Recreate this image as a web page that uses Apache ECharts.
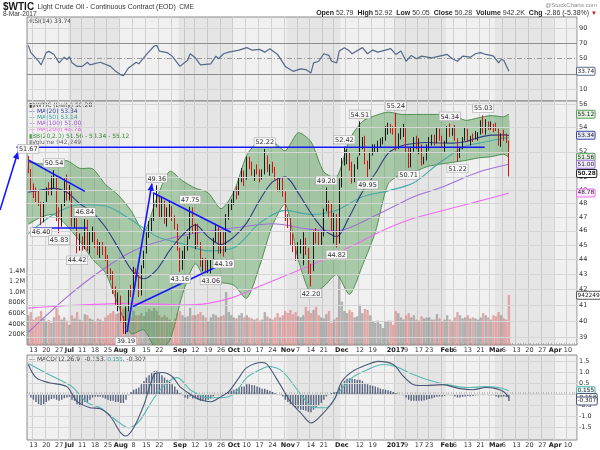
<!DOCTYPE html>
<html>
<head>
<meta charset="utf-8">
<script src="https://cdn.jsdelivr.net/npm/echarts@6.0.0/dist/echarts.min.js"></script>
<style>
html,body{margin:0;padding:0;background:#ffffff;}
#chart{width:600px;height:450px;}
</style>
</head>
<body>
<div id="chart"></div>
<script>
// ---------------- calendar (trading days) ----------------
const firstDay = '2016-06-09';
const lastAxisDay = '2017-04-13';
const holidays = ['2016-07-04','2016-09-05','2016-11-24','2016-12-26','2017-01-02','2017-01-16','2017-02-20','2017-04-14'];

// ---------------- daily OHLC, Jun 9 2016 .. Mar 8 2017 ----------------
const opens = [
51.10,50.50,49.05,48.90,48.50,48.00,46.70,48.30,49.00,48.90,
49.20,50.00,47.50,46.40,47.90,49.80,48.30,48.90,46.60,47.30,
45.20,45.30,44.80,46.70,44.80,45.60,45.90,45.20,44.60,44.90,
44.70,44.20,43.10,42.90,41.90,41.20,41.50,40.10,39.50,40.90,
41.90,41.80,43.00,42.80,41.70,43.50,44.50,45.70,46.60,46.80,
48.20,48.50,47.10,48.10,46.80,47.30,47.60,47.00,46.30,44.70,
43.40,44.40,44.80,45.50,47.60,45.60,46.30,44.90,43.60,43.90,
43.10,43.30,43.90,45.30,46.30,44.50,45.90,44.70,47.10,47.80,
48.20,48.80,48.70,49.80,50.40,49.90,51.40,51.10,50.20,50.40,
50.40,49.90,50.30,51.60,50.50,50.80,50.50,49.90,49.20,49.70,
48.70,46.90,46.70,45.30,44.70,44.10,44.90,45.00,45.30,44.70,
43.40,43.30,45.80,45.60,45.40,45.70,47.50,48.00,47.90,46.10,
47.10,45.20,49.50,51.10,51.70,51.80,50.90,49.80,50.80,51.80,
52.80,53.00,51.00,50.90,51.90,52.10,52.20,52.50,52.90,53.00,
53.90,54.00,53.80,53.90,52.40,53.30,53.80,53.90,51.90,50.80,
52.20,53.00,52.40,52.40,51.10,51.40,52.40,52.80,53.20,52.80,
53.80,53.20,52.60,52.80,53.90,53.50,53.80,53.00,52.20,52.30,
53.00,53.90,52.90,53.20,53.10,53.40,53.40,54.10,53.60,54.40,
54.00,54.00,54.00,53.80,52.60,53.30,53.20,52.79];
const highs = [
51.67,50.62,49.50,49.20,49.00,48.10,48.10,49.20,49.60,50.10,
50.54,50.10,47.70,48.00,49.90,50.20,49.40,49.00,47.60,47.40,
45.80,45.60,46.84,46.80,46.00,46.30,46.00,45.40,45.20,45.20,
44.90,44.30,43.40,43.20,42.20,41.80,41.60,40.30,40.90,42.00,
42.30,43.50,43.40,43.10,43.60,44.60,45.90,46.70,47.00,48.70,
49.36,48.60,48.50,48.20,47.70,48.20,47.80,47.10,46.50,44.80,
44.60,45.00,45.60,47.75,47.70,46.50,46.50,45.20,44.10,44.10,
44.00,44.00,45.50,46.50,46.40,46.00,46.00,47.20,48.00,48.30,
49.00,49.30,50.00,50.70,50.50,51.60,51.60,51.20,50.60,51.00,
50.60,50.60,52.22,51.70,51.00,51.20,50.80,50.00,49.90,50.00,
48.90,47.20,46.90,45.80,45.00,45.20,45.40,45.90,45.50,44.80,
43.70,46.00,46.20,46.00,46.00,47.60,49.20,48.20,48.00,47.30,
47.20,49.90,51.50,52.42,52.20,51.90,51.20,51.00,51.60,54.51,
53.20,53.30,51.30,52.00,52.60,52.60,52.90,53.10,53.20,54.10,
54.40,54.30,54.10,55.24,53.50,54.00,54.30,54.00,52.30,52.40,
53.20,53.30,53.10,52.60,51.60,52.60,53.20,53.40,53.40,54.00,
53.90,53.30,52.90,54.10,54.34,54.00,54.20,53.10,52.40,53.20,
54.00,53.90,53.30,53.50,53.70,53.60,54.60,55.03,54.70,54.50,
54.50,54.30,54.40,53.90,53.50,53.80,53.50,52.92];
const lows = [
50.30,48.90,48.40,48.10,47.80,46.40,46.60,48.10,48.60,48.60,
49.10,46.70,45.83,46.30,47.80,48.20,48.20,46.30,46.20,44.42,
44.60,44.60,44.70,44.60,44.40,45.20,44.80,44.30,44.10,44.30,
43.90,42.90,42.60,41.70,41.00,40.60,39.90,39.20,39.19,40.60,
41.50,41.70,42.40,41.50,41.60,43.40,44.40,45.50,45.90,46.70,
47.70,46.90,46.90,46.50,46.30,47.00,46.70,46.10,44.60,43.16,
43.30,44.00,44.60,45.40,45.80,44.70,44.85,43.50,43.20,43.10,
43.08,43.06,43.80,45.20,44.40,44.40,44.19,44.50,46.80,47.50,
47.90,48.30,48.60,49.60,49.30,49.80,50.60,50.10,49.70,50.20,
49.60,49.80,50.20,50.40,50.10,50.30,49.80,48.90,48.90,48.50,
46.70,46.20,45.00,44.50,43.90,44.00,44.40,43.60,44.30,43.00,
42.20,43.20,45.10,45.00,45.00,45.60,47.40,46.90,45.90,45.10,
44.82,45.10,49.20,50.90,51.00,50.50,49.50,49.60,50.60,51.70,
52.20,51.00,49.95,50.60,51.70,51.90,51.90,52.30,52.60,52.90,
53.40,53.50,53.40,52.10,52.20,53.00,53.20,51.90,50.71,50.75,
52.00,52.20,51.80,50.90,51.00,51.30,52.10,52.50,52.50,52.70,
52.90,52.30,52.00,52.70,53.20,53.30,52.90,51.22,51.50,52.20,
52.90,52.80,52.50,52.80,53.00,52.90,53.40,53.50,53.40,53.80,
53.80,53.60,53.70,52.50,52.40,52.90,52.70,50.05];
const closes = [
50.56,49.07,48.88,48.49,48.01,46.60,47.98,48.96,48.85,49.13,
50.11,47.64,46.33,47.85,49.88,48.33,48.99,46.60,47.43,45.14,
45.41,44.76,46.80,44.75,45.68,45.95,45.24,44.65,44.94,44.75,
44.19,43.13,42.92,41.92,41.14,41.60,40.06,39.51,40.83,41.93,
41.80,43.02,42.77,41.71,43.49,44.49,45.74,46.58,46.79,48.22,
48.52,47.05,48.10,46.77,47.33,47.64,46.98,46.35,44.70,43.20,
44.44,44.83,45.50,47.62,45.88,46.29,44.90,43.58,43.91,43.13,
43.30,43.85,45.34,46.32,44.48,45.93,44.67,47.05,47.83,48.24,
48.81,48.69,49.83,50.44,49.81,51.35,51.09,50.18,50.44,50.35,
49.94,50.29,51.60,50.43,50.85,50.52,49.96,49.18,49.72,48.70,
46.86,46.67,45.34,44.66,44.07,44.89,44.98,45.27,44.66,43.41,
43.32,45.81,45.57,45.42,45.69,47.49,48.03,47.96,46.06,47.08,
45.23,49.44,51.06,51.68,51.79,50.93,49.77,50.84,51.50,52.83,
52.98,51.04,50.90,51.90,52.12,52.23,52.49,52.95,53.02,53.90,
54.06,53.77,53.72,52.33,53.26,53.76,53.99,51.96,50.82,52.25,
53.01,52.37,52.48,51.08,51.37,52.42,52.75,53.18,52.75,53.78,
53.17,52.63,52.81,53.88,53.54,53.83,53.01,52.17,52.34,53.00,
53.86,52.93,53.20,53.11,53.36,53.40,54.06,53.59,54.45,53.99,
54.05,54.01,53.83,52.61,53.33,53.20,53.14,50.28];
// volume in thousands of contracts
const volumesK = [
560,620,480,520,540,640,500,450,470,420,
520,700,560,480,520,460,380,560,500,620,
480,460,580,560,500,480,430,500,480,450,
520,560,600,640,580,600,620,680,700,640,
520,640,560,560,600,540,620,680,640,700,
640,560,520,560,520,480,440,500,600,640,
560,520,540,700,560,560,580,620,560,520,
440,520,580,560,520,540,560,1000,620,560,
520,500,560,600,520,560,520,500,480,500,
460,480,620,540,500,480,520,600,520,560,
640,600,660,580,620,540,520,560,720,640,
600,660,720,560,520,500,580,640,420,480,
520,1290,820,640,600,660,620,520,540,760,
600,680,660,560,440,420,460,400,320,440,
460,460,380,640,600,520,480,560,600,520,
560,480,460,540,500,520,520,480,480,580,
500,440,480,560,480,460,520,620,560,500,
520,560,500,520,500,480,520,600,560,520,
480,560,540,620,560,500,480,942];

// ---------------- overlays (trading-day index, value) ----------------
const bbIdx   = [0,5,10,15,20,25,30,35,40,45,50,55,60,65,70,75,80,85,90,95,100,105,110,115,120,125,130,135,140,145,150,155,160,165,170,175,180,185,187];
const ma20    = [48.83,49.01,49.13,48.83,47.98,47.33,46.27,44.80,43.33,42.70,43.31,44.62,45.69,46.42,45.57,45.02,45.57,46.57,48.23,49.62,50.01,48.79,47.27,46.08,45.58,47.04,48.86,50.27,51.87,52.47,52.67,52.75,52.71,52.70,52.82,53.14,53.36,53.38,53.34];
const bbUpper = [51.17,51.03,51.09,51.29,50.68,50.65,49.43,48.62,47.45,45.96,48.39,50.44,49.71,49.14,48.79,47.60,48.87,51.71,52.91,52.86,52.09,53.55,52.81,50.40,50.00,53.00,54.50,55.00,55.30,55.10,55.10,55.10,55.10,55.10,54.60,54.80,55.00,54.90,55.12];
const bbLower = [46.49,46.99,47.17,46.37,45.28,44.01,43.11,40.98,39.21,39.44,38.23,38.80,41.67,43.70,42.35,42.44,42.27,41.43,43.55,46.38,47.93,44.03,41.73,42.20,42.98,41.68,43.58,45.89,49.47,50.20,50.40,50.80,51.00,51.15,51.30,51.50,51.60,51.80,51.56];
const ma50Pts  = [[0,45.8],[10,47.2],[20,47.9],[30,47.8],[40,46.8],[50,45.6],[60,45.08],[70,44.59],[80,44.80],[90,46.55],[100,47.48],[110,47.18],[120,47.49],[130,48.49],[140,48.94],[150,49.56],[160,51.12],[170,52.45],[175,52.68],[185,53.10],[187,53.14]];
const ma100Pts = [[0,39.3],[15,41.5],[28,43.2],[41,44.6],[54,45.4],[67,45.9],[80,46.2],[95,46.5],[110,46.1],[120,46.0],[135,47.1],[150,48.5],[160,49.15],[175,50.37],[187,51.0]];
const ma200Pts = [[0,40.8],[20,41.0],[40,41.1],[60,41.0],[70,41.1],[80,41.5],[90,42.2],[100,42.9],[110,43.6],[120,44.4],[130,45.3],[140,46.2],[150,46.9],[160,47.4],[170,47.9],[180,48.4],[187,48.78]];

// ---------------- RSI(14) and MACD(12,26,9) ----------------
const rsiPts = [[0,67.5],[1,58],[4,46.8],[5,42],[7,58],[8,59.6],[10,55.6],[12,44.6],[14,52],[15,49],[16,52.5],[17,44.6],[19,40],[21,40],[23,45.4],[24,42],[28,45.4],[32,40],[34,33.5],[36,29],[37,27.8],[39,38],[42,45.4],[43,43.3],[46,55.6],[49,66.6],[50,67.5],[51,60],[54,58],[56,53.4],[59,40],[62,48],[63,56.5],[65,51.2],[67,42],[71,43.3],[73,53.4],[74,50],[76,56.5],[78,58.6],[82,61.3],[85,64.5],[87,61.3],[90,62.2],[92,58.6],[94,63.1],[97,55.6],[100,40],[103,33.5],[106,36.7],[108,35.8],[110,31.4],[111,44.6],[113,46.7],[115,56.5],[117,54.3],[118,46.7],[120,44.6],[121,60],[123,64.5],[125,60],[126,56.5],[130,64.5],[132,56.5],[134,61.3],[136,58.6],[139,61.3],[141,63.1],[143,55.6],[145,60],[147,46.7],[149,54.3],[151,50],[153,53.4],[157,51.2],[160,53.4],[163,55.6],[165,50],[167,46.7],[169,53.4],[172,52],[174,56.5],[176,58],[178,55.6],[180,54.3],[181,53.4],[183,44.6],[184,49],[185,48],[187,33.74]];
const macdPts = [[0,1.34],[3,0.75],[8,0.52],[15,0.34],[19,-0.34],[24,-0.61],[28,-0.66],[32,-1.02],[36,-1.75],[38,-1.89],[41,-1.52],[45,-0.48],[49,0.89],[52,0.98],[56,0.8],[59,0.34],[63,0],[67,-0.25],[71,-0.34],[75,-0.11],[78,0.11],[82,0.75],[85,1.2],[91,1.43],[93,1.34],[98,0.43],[102,-0.34],[106,-0.84],[110,-1.3],[113,-1.07],[119,-0.25],[122,0.57],[126,1.02],[132,1.34],[136,1.48],[142,1.34],[146,0.8],[150,0.43],[155,0.39],[161,0.43],[168,0.25],[173,0.2],[178,0.3],[182,0.25],[185,0.11],[187,-0.153]];
const signalPts = [[0,1.39],[8,0.89],[17,0.34],[23,-0.39],[28,-0.61],[35,-1.25],[39,-1.52],[43,-1.25],[49,-0.16],[54,0.52],[58,0.75],[63,0.2],[70,-0.16],[75,-0.16],[80,0],[85,0.75],[92,1.2],[94,1.25],[99,1.02],[106,0.0],[111,-0.6],[116,-0.61],[121,0.11],[126,0.75],[132,1.11],[138,1.34],[143,1.25],[148,0.98],[155,0.66],[163,0.43],[171,0.3],[178,0.34],[183,0.3],[187,0.155]];
const macdHist = [
-0.05,-0.15,-0.25,-0.35,-0.45,-0.5,-0.45,-0.35,-0.28,-0.22,
-0.2,-0.25,-0.3,-0.25,-0.18,-0.15,-0.12,-0.25,-0.3,-0.45,
-0.55,-0.5,-0.35,-0.35,-0.25,-0.15,-0.12,-0.12,-0.12,-0.15,
-0.2,-0.25,-0.3,-0.3,-0.35,-0.35,-0.4,-0.4,-0.25,-0.05,
0.1,0.2,0.25,0.3,0.45,0.6,0.75,0.85,0.95,1.05,
1.05,0.95,0.85,0.75,0.65,0.55,0.45,0.35,0.2,0.05,
-0.05,-0.15,-0.2,-0.1,-0.2,-0.2,-0.25,-0.3,-0.3,-0.3,
-0.25,-0.2,-0.1,-0.05,-0.05,-0.05,-0.05,0.05,0.1,0.15,
0.2,0.25,0.3,0.35,0.35,0.45,0.45,0.42,0.4,0.35,
0.3,0.25,0.25,0.2,0.15,0.1,0.05,0,-0.05,-0.1,
-0.25,-0.35,-0.45,-0.55,-0.62,-0.65,-0.7,-0.72,-0.75,-0.8,
-0.82,-0.7,-0.6,-0.5,-0.4,-0.25,-0.1,0,0.05,0.1,
0.1,0.3,0.45,0.6,0.7,0.72,0.7,0.68,0.65,0.65,
0.6,0.5,0.45,0.4,0.38,0.35,0.3,0.25,0.22,0.2,
0.18,0.15,0.1,0.05,0.02,0,-0.05,-0.15,-0.25,-0.3,
-0.3,-0.3,-0.3,-0.3,-0.28,-0.25,-0.22,-0.2,-0.15,-0.12,
-0.1,-0.1,-0.08,-0.05,-0.05,-0.05,-0.1,-0.15,-0.15,-0.12,
-0.1,-0.08,-0.1,-0.08,-0.06,-0.05,-0.03,-0.05,-0.03,-0.05,
-0.05,-0.05,-0.1,-0.15,-0.12,-0.1,-0.12,-0.307];

// ---------------- tick labels ----------------
const priceTicks = [39,40,41,42,43,44,45,46,47,48,49,50,52,54,56];
const volumeTicksK = [200,400,600,800,1000,1200,1400];
const rsiTicks = [10,30,50,70,90];
const macdTicks = [-1.5,-1,-0.5,0,0.5,1,1.5];
const dateLabels = [['2016-06-13','13'],['2016-06-20','20'],['2016-06-27','27'],['2016-07-01','Jul'],['2016-07-11','11'],['2016-07-18','18'],['2016-07-25','25'],['2016-08-01','Aug'],['2016-08-08','8'],['2016-08-15','15'],['2016-08-22','22'],['2016-09-01','Sep'],['2016-09-12','12'],['2016-09-19','19'],['2016-09-26','26'],['2016-10-03','Oct'],['2016-10-10','10'],['2016-10-17','17'],['2016-10-24','24'],['2016-11-01','Nov'],['2016-11-07','7'],['2016-11-14','14'],['2016-11-21','21'],['2016-12-01','Dec'],['2016-12-12','12'],['2016-12-19','19'],['2017-01-03','2017'],['2017-01-09','9'],['2017-01-17','17'],['2017-01-23','23'],['2017-02-01','Feb'],['2017-02-06','6'],['2017-02-13','13'],['2017-02-21','21'],['2017-03-01','Mar'],['2017-03-06','6'],['2017-03-13','13'],['2017-03-20','20'],['2017-03-27','27'],['2017-04-03','Apr'],['2017-04-10','10']];

// ---------------- annotations: [index, price, side] and hand-drawn lines ----------------
const peakLabels = [[0,51.67,'top'],[10,50.54,'top'],[5,46.40,'bottom'],[12,45.83,'bottom'],[22,46.84,'top'],[19,44.42,'bottom'],[38,39.19,'bottom'],[50,49.36,'top'],[63,47.75,'top'],[59,43.16,'bottom'],[71,43.06,'bottom'],[76,44.19,'bottom'],[92,52.22,'top'],[116,49.20,'top'],[110,42.20,'bottom'],[120,44.82,'bottom'],[123,52.42,'top'],[129,54.51,'top'],[132,49.95,'bottom'],[143,55.24,'top'],[148,50.71,'bottom'],[164,54.34,'top'],[167,51.22,'bottom'],[177,55.03,'top']];
const trendLines = [
  [[-11,47.5],[-4,52.0],true],
  [[-4.6,52.36],[177.6,52.36],false],
  [[0,51.34],[22,48.9],false],
  [[1.8,46.2],[22.8,46.2],false],
  [[38.4,39.3],[48.1,49.5],true],
  [[40.7,40.9],[79.2,44.0],false],
  [[48.5,48.8],[78.8,45.9],false]
];

// ---------------- build ----------------
function buildDays(start, end){
  const out=[]; const d=new Date(start+'T00:00:00Z'); const e=new Date(end+'T00:00:00Z');
  while(d<=e){ const wd=d.getUTCDay(); const s=d.toISOString().slice(0,10);
    if(wd!==0 && wd!==6 && holidays.indexOf(s)<0) out.push(s);
    d.setUTCDate(d.getUTCDate()+1); }
  return out;
}
const days = buildDays(firstDay, lastAxisDay);
const N = days.length;
const XMAX = N - 0.5;
const labelMap = {}; dateLabels.forEach(p => labelMap[p[0]] = p[1]);
const dow = s => new Date(s+'T00:00:00Z').getUTCDay();
const weekStart = days.map((s,i)=> i>0 && dow(s) <= dow(days[i-1]));
const months = [];
days.forEach((s,i)=>{ const m=s.slice(0,7); if(!months.length || months[months.length-1].m!==m) months.push({m, a:i, b:i}); else months[months.length-1].b=i; });
const darkMonths = months.filter((m,k)=> k%2===1);

const FONT = 'DejaVu Sans';
const HIDE = 'rgba(0,0,0,0)';
const catAxis = (gi, showLabels) => ({
  type:'category', gridIndex:gi, data:days, boundaryGap:true,
  axisLine:{show:false},
  axisTick:{show:showLabels, inside:true, interval:0, length:2, lineStyle:{color:'#a0a0a0', width:0.6}},
  axisLabel:{show:showLabels, interval:(i,v)=>!!labelMap[v], showMinLabel:true, showMaxLabel:true, hideOverlap:false,
    margin:2, fontSize:6.5, fontFamily:FONT, color:'#333',
    formatter:(v)=>{ const t=labelMap[v]||''; return /^[0-9]{1,2}$/.test(t) ? t : '{b|'+t+'}'; },
    rich:{b:{fontWeight:'bold', fontSize:6.5, fontFamily:FONT, color:'#222'}}},
  splitLine:{show:true, interval:(i)=>weekStart[i], lineStyle:{color:'#d2d2d2', width:1}}
});
const valAxis = gi => ({type:'value', gridIndex:gi, min:-0.5, max:XMAX, show:false, splitLine:{show:false}});
const hidY = (gi, extra) => Object.assign({gridIndex:gi, axisLine:{show:false}, axisTick:{show:false}, axisLabel:{show:false}, splitLine:{show:false}}, extra);

const lbl = {fontSize:6.5, fontFamily:FONT, color:'#333'};
function hLines(xi, yi, values, fmt, styleFor, pos, z){
  return {type:'line', xAxisIndex:xi, yAxisIndex:yi, data:[], z:z||1, silent:true, animation:false,
    markLine:{silent:true, animation:false, symbol:['none','none'], precision:4,
      data: values.map(v=>({yAxis:v, lineStyle:styleFor(v), label:{show: fmt(v)!=='', position:pos||'end', distance:2, formatter:()=>fmt(v), ...lbl}}))}};
}
function tags(xi, yi, items, z){
  return {type:'line', xAxisIndex:xi, yAxisIndex:yi, data:[], z:z||9, silent:true, animation:false,
    markLine:{silent:true, animation:false, symbol:['none','none'], precision:4,
      data: items.map(t=>({yAxis:t.v, lineStyle:{color:HIDE, width:0}, label:{show:true, position:'end', distance:0, formatter:()=>t.text,
        fontSize:5.8, fontFamily:FONT, color:'#222', fontWeight:t.bold?'bold':'normal', backgroundColor:t.bg, borderColor:t.c, borderWidth:1, borderRadius:1, padding:[1,0.5,0,0.5]}}))}};
}
function shading(xi, yi){
  return {type:'line', xAxisIndex:xi, yAxisIndex:yi, data:[], z:0, silent:true, animation:false,
    markArea:{silent:true, animation:false, itemStyle:{color:'rgba(0,0,0,0.045)'},
      data: darkMonths.map(m=>[{xAxis:m.a-0.5},{xAxis:m.b+0.5}])}};
}

const candleData = closes.map((c,i)=>{
  const prev = i===0 ? opens[0] : closes[i-1];
  const col = c < prev ? '#d0141a' : '#1c1c1c';
  return {value:[opens[i], c, lows[i], highs[i]], itemStyle:{color:HIDE, color0:col, borderColor:col, borderColor0:col, borderWidth:1}};
});
const volData = volumesK.map((v,i)=>{
  const down = i>0 && closes[i] < closes[i-1];
  return {value:v, itemStyle:{color: down?'rgba(230,140,140,0.62)':'rgba(160,160,160,0.62)', borderColor: down?'#d48080':'#8a8a8a', borderWidth:0.5}};
});
const bbLinePts = arr => bbIdx.map((x,k)=>[x, arr[k]]);

const option = {
  animation:false,
  backgroundColor:'#ffffff',
  textStyle:{fontFamily:FONT},
  grid:[
    {left:27, top:17, width:550, height:84, show:true, backgroundColor:'#f0f0f0', borderColor:'#8a8a8a', borderWidth:1},
    {left:27, top:101, width:550, height:244, show:true, backgroundColor:'#f0f0f0', borderColor:'#8a8a8a', borderWidth:1},
    {left:27, top:355, width:550, height:85, show:true, backgroundColor:'#f0f0f0', borderColor:'#8a8a8a', borderWidth:1}
  ],
  xAxis:[catAxis(0,false), catAxis(1,true), catAxis(2,true), valAxis(0), valAxis(1), valAxis(2)],
  yAxis:[
    hidY(0,{type:'value', min:-5.2, max:104.5}),
    hidY(1,{type:'log', logBase:10, min:38.53, max:56.26}),
    hidY(1,{type:'value', min:0, max:4616}),
    hidY(2,{type:'value', min:-2.07, max:1.77})
  ],
  graphic:[
    {type:'text', left:3, top:1, style:{text:'{a|$WTIC} {b|Light Crude Oil - Continuous Contract (EOD)} {c|CME}',
      rich:{a:{fontSize:10, fontWeight:'bold', fontFamily:'Liberation Sans', fill:'#1a1a1a'}, b:{fontSize:7, fontFamily:'Liberation Sans', fill:'#333'}, c:{fontSize:6.5, fontFamily:'Liberation Sans', fill:'#333'}}}},
    {type:'text', left:3, top:11, style:{text:'8-Mar-2017', fontSize:6.5, fontFamily:'Liberation Sans', fill:'#333'}},
    {type:'text', right:3, top:2, style:{text:'@StockCharts.com', fontSize:6, fontFamily:'Liberation Sans', fill:'#8a8a8a'}},
    {type:'text', right:3, top:10, style:{text:'{k|Open} 52.79  {k|High} 52.92  {k|Low} 50.05  {k|Close} 50.28  {k|Volume} 942.2K  {k|Chg} -2.86 (-5.38%) {r|▼}',
      fontSize:7, fontFamily:'Liberation Sans', fill:'#333', rich:{k:{fontWeight:'bold', fontSize:7, fontFamily:'Liberation Sans', fill:'#222'}, r:{fontSize:6, fill:'#d0141a'}}}},
    {type:'text', left:29, top:18, style:{text:'{i|⁄}RSI(14) 33.74', fontSize:6, fontFamily:FONT, fill:'#444', rich:{i:{fontSize:6, fill:'#56688a'}}}},
    {type:'text', left:29, top:102, style:{text:'{i|▮}$WTIC (Daily) 50.28', fontSize:6, fontFamily:FONT, fill:'#444', rich:{i:{fontSize:6, fill:'#333'}}}},
    {type:'text', left:29, top:108.2, style:{text:'— MA(20) 53.34', fontSize:6, fontFamily:FONT, fill:'#2f3b9c'}},
    {type:'text', left:29, top:114.4, style:{text:'— MA(50) 53.14', fontSize:6, fontFamily:FONT, fill:'#3c9c9c'}},
    {type:'text', left:29, top:120.6, style:{text:'— MA(100) 51.00', fontSize:6, fontFamily:FONT, fill:'#9a5ad0'}},
    {type:'text', left:29, top:126.8, style:{text:'— MA(200) 48.78', fontSize:6, fontFamily:FONT, fill:'#ee5fe6'}},
    {type:'text', left:29, top:133, style:{text:'{i|▮}BB(20,2.0) 51.56 - 53.34 - 55.12', fontSize:6, fontFamily:FONT, fill:'#3a8a3a', rich:{i:{fontSize:6, fill:'#4e9a4e'}}}},
    {type:'text', left:29, top:139.2, style:{text:'{i|▮}Volume 942,249', fontSize:6, fontFamily:FONT, fill:'#666', rich:{i:{fontSize:6, fill:'#999'}}}},
    {type:'text', left:29, top:356, style:{text:'— MACD(12,26,9) -0.153, {t|0.155}, -0.307', fontSize:6, fontFamily:FONT, fill:'#444', rich:{t:{fontSize:6, fill:'#3aa8a0'}}}}
  ],
  series:[
    // shading by month
    shading(3,0), shading(4,1), shading(5,3),
    // RSI panel
    hLines(3,0, rsiTicks, v=> v===30 ? '' : String(v),
      v=> v===70||v===30 ? {color:'#8c8c8c', width:1, type:'solid'} : v===50 ? {color:'#9a9a9a', width:1, type:[5,2,1,2]} : {color:'#d6d6d6', width:1, type:'solid'}),
    {type:'line', xAxisIndex:3, yAxisIndex:0, data:rsiPts, symbol:'none', z:5, lineStyle:{color:'#56688a', width:1.2}},
    tags(3,0,[{v:33.74, text:'33.74', c:'#56688a', bg:'#ffffff'}]),
    // main panel gridlines & labels
    hLines(4,1, priceTicks, v=>String(v), ()=>({color:'#d6d6d6', width:1, type:'solid'})),
    hLines(4,2, volumeTicksK, v=> v>=1000 ? (v/1000).toFixed(1)+'M' : v+'K', ()=>({color:HIDE, width:0}), 'start'),
    // volume
    {type:'bar', xAxisIndex:1, yAxisIndex:2, data:volData, barWidth:2, z:1, silent:true},
    // Bollinger band
    {type:'custom', xAxisIndex:4, yAxisIndex:1, data:[[0,45]], z:2, silent:true, clip:true,
      renderItem:(params, api)=>{
        const up = bbIdx.map((x,k)=>api.coord([x, bbUpper[k]]));
        const lo = bbIdx.map((x,k)=>api.coord([x, bbLower[k]])).reverse();
        return {type:'group', children:[
          {type:'polygon', shape:{points:up.concat(lo), smooth:0.25}, style:{fill:'rgba(72,150,72,0.42)', stroke:'none'}},
          {type:'polyline', shape:{points:up, smooth:0.25}, style:{stroke:'#4f8f4f', lineWidth:1, fill:'none'}},
          {type:'polyline', shape:{points:lo, smooth:0.25}, style:{stroke:'#4f8f4f', lineWidth:1, fill:'none'}}
        ]};
      }},
    // moving averages
    {type:'line', xAxisIndex:4, yAxisIndex:1, data:ma200Pts, symbol:'none', smooth:0.3, z:3, lineStyle:{color:'#f06cf0', width:1.1}},
    {type:'line', xAxisIndex:4, yAxisIndex:1, data:ma100Pts, symbol:'none', smooth:0.3, z:3, lineStyle:{color:'#9d72d6', width:1.1}},
    {type:'line', xAxisIndex:4, yAxisIndex:1, data:ma50Pts, symbol:'none', smooth:0.3, z:3, lineStyle:{color:'#46a8a8', width:1.1}},
    {type:'line', xAxisIndex:4, yAxisIndex:1, data:bbLinePts(ma20), symbol:'none', smooth:0.3, z:3, lineStyle:{color:'#2f3b8c', width:1.1}},
    // candles
    {type:'candlestick', xAxisIndex:1, yAxisIndex:1, data:candleData, barMaxWidth:2, z:4, silent:true},
    // hand-drawn lines
    {type:'custom', xAxisIndex:4, yAxisIndex:1, z:6, silent:true, clip:false,
      data: trendLines.map(t=>[t[0][0], t[0][1]]),
      renderItem:(params, api)=>{
        const t = trendLines[params.dataIndex];
        const a = api.coord(t[0]), b = api.coord(t[1]);
        const ch = [{type:'line', shape:{x1:a[0], y1:a[1], x2:b[0], y2:b[1]}, style:{stroke:'#1616ff', lineWidth:1.6}}];
        if (t[2]) {
          const ang = Math.atan2(b[1]-a[1], b[0]-a[0]), L=7, W=3.2;
          ch.push({type:'polygon', shape:{points:[b,
            [b[0]-L*Math.cos(ang)+W*Math.sin(ang), b[1]-L*Math.sin(ang)-W*Math.cos(ang)],
            [b[0]-L*Math.cos(ang)-W*Math.sin(ang), b[1]-L*Math.sin(ang)+W*Math.cos(ang)]]}, style:{fill:'#1616ff'}});
        }
        return {type:'group', children:ch};
      }},
    // high / low value labels
    {type:'custom', xAxisIndex:4, yAxisIndex:1, z:7, silent:true, clip:false,
      data: peakLabels.map(p=>[p[0], p[1]]),
      renderItem:(params, api)=>{
        const p = peakLabels[params.dataIndex];
        const c = api.coord([p[0], p[1]]);
        const top = p[2]==='top';
        return {type:'text', x:c[0], y: top ? c[1]-3 : c[1]+3,
          style:{text:p[1].toFixed(2), fontSize:6.5, fontFamily:FONT, fill:'#333', align:'center', verticalAlign: top?'bottom':'top',
            backgroundColor:'#f7f7f7', borderColor:'#a8a8a8', borderWidth:0.6, padding:[1,1,0,1]}};
      }},
    tags(4,1,[
      {v:55.12, text:'55.12', c:'#5aa05a', bg:'#e2f1e2'},
      {v:53.34, text:'53.34', c:'#3a44a8', bg:'#e8e9f7'},
      {v:51.56, text:'51.56', c:'#5aa05a', bg:'#e2f1e2'},
      {v:51.00, text:'51.00', c:'#a070d4', bg:'#f1e9f9'},
      {v:50.28, text:'50.28', c:'#222222', bg:'#ffffff', bold:true},
      {v:48.78, text:'48.78', c:'#f06cf0', bg:'#fde9fd'}
    ]),
    tags(4,2,[{v:942.249, text:'942249', c:'#555', bg:'#ffffff'}]),
    // MACD panel
    hLines(5,3, macdTicks, v=> v===0 ? '' : v.toFixed(1), ()=>({color:'#d6d6d6', width:1, type:'solid'})),
    {type:'bar', xAxisIndex:2, yAxisIndex:3, data:macdHist, barWidth:1.4, z:2, silent:true, itemStyle:{color:'#56627e'}},
    {type:'line', xAxisIndex:5, yAxisIndex:3, data:signalPts, symbol:'none', smooth:0.3, z:4, lineStyle:{color:'#56b8b0', width:1.1}},
    {type:'line', xAxisIndex:5, yAxisIndex:3, data:macdPts, symbol:'none', smooth:0.3, z:5, lineStyle:{color:'#4a5675', width:1.1}},
    tags(5,3,[
      {v:0.155, text:'0.155', c:'#56b8b0', bg:'#e6f5f4'},
      {v:-0.153, text:'-0.153', c:'#4a5675', bg:'#ffffff'},
      {v:-0.307, text:'-0.307', c:'#4a5675', bg:'#ffffff'}
    ])
  ]
};
const chart = echarts.init(document.getElementById('chart'), null, {renderer:'canvas', width:600, height:450});
chart.setOption(option);
</script>
</body>
</html>
